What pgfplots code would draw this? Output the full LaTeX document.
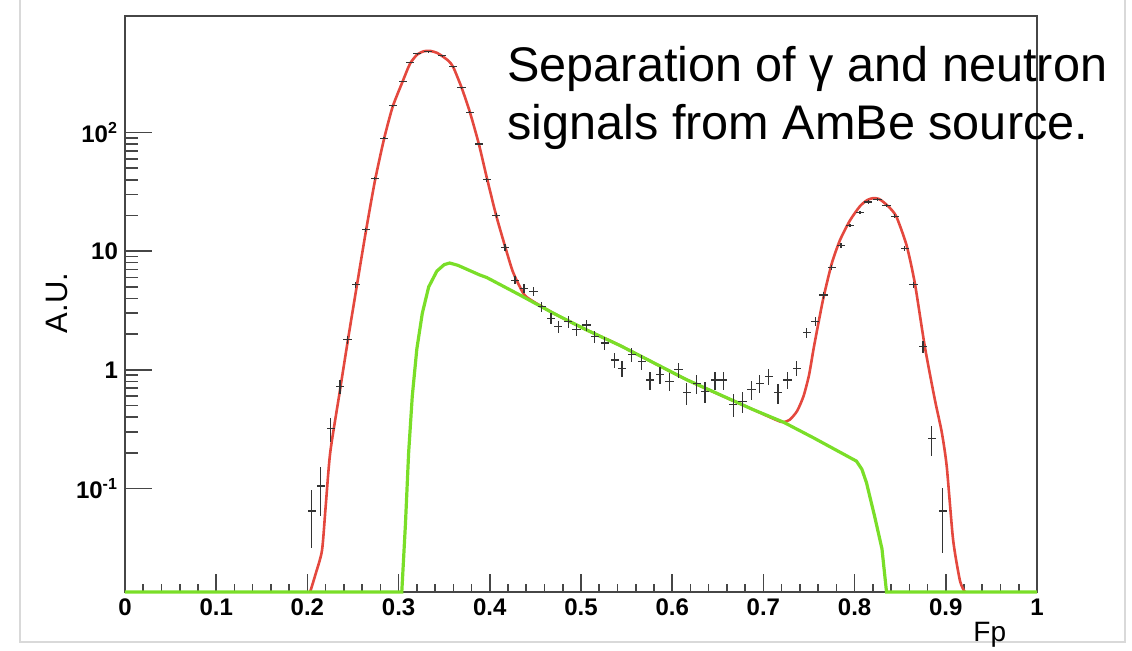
\documentclass[border=0pt]{standalone}
\usepackage{pgfplots}
\pgfplotsset{compat=1.18}
\usepackage{fontspec}
\setmainfont{Liberation Sans}
\definecolor{fitred}{RGB}{228,72,62}
\definecolor{bggreen}{RGB}{122,222,40}
\definecolor{axgray}{RGB}{70,70,70}
\begin{document}
\begin{tikzpicture}
\useasboundingbox (0,0) rectangle (566pt,325pt);
\draw[black!15, line width=0.6pt] (10pt,325pt) -- (10pt,4pt) -- (562.5pt,4pt) -- (562.5pt,325pt);
% main axis: data, x ticks
\begin{axis}[
  at={(62.5pt,29pt)}, anchor=south west, scale only axis,
  width=456pt, height=288pt,
  xmin=0, xmax=1, ymode=log, ymin=0.0134, ymax=960,
  xtick={0,0.1,0.2,0.3,0.4,0.5,0.6,0.7,0.8,0.9,1},
  xticklabels={0,0.1,0.2,0.3,0.4,0.5,0.6,0.7,0.8,0.9,1},
  minor x tick num=4,
  ytick=\empty, yminorticks=false,
  xtick pos=bottom,
  major tick length=9pt, minor tick length=4pt,
  axis line style={draw=axgray, line width=1pt},
  tick style={axgray, line width=0.8pt},
  xticklabel style={font=\bfseries\fontsize{12}{14}\selectfont},
  clip=false,
]
\addplot[fitred, line width=1.3pt, smooth, tension=0.4] coordinates {
(0.203,0.0134) (0.209,0.019) (0.216,0.03) (0.220,0.07) (0.225,0.2)
(0.235,0.62) (0.245,1.9) (0.254,5.0) (0.264,14.5) (0.274,39)
(0.284,88) (0.2935,165) (0.3045,270) (0.3125,380) (0.3205,455)
(0.328,485) (0.335,487) (0.342,470) (0.348,440) (0.355,400)
(0.360,355) (0.369,240) (0.378,150) (0.388,80) (0.3966,42)
(0.407,20) (0.4167,11) (0.425,6.8) (0.433,5.0) (0.4404,4.1)
(0.4697,3.0) (0.506,2.17) (0.543,1.6) (0.616,0.824) (0.689,0.461)
(0.715,0.375) (0.722,0.362) (0.729,0.38) (0.737,0.45) (0.744,0.6)
(0.750,0.9) (0.755,1.5) (0.760,2.4) (0.766,4.1) (0.775,7.9)
(0.784,12.4) (0.795,18.2) (0.806,24) (0.814,27) (0.8205,28)
(0.8265,27.6) (0.8315,26) (0.839,23) (0.846,19.4) (0.857,11.2)
(0.866,5.4) (0.877,1.57) (0.888,0.56) (0.8955,0.3) (0.901,0.154)
(0.908,0.037) (0.9156,0.0166) (0.921,0.0134)
};
\addplot[bggreen, line width=1.6pt] coordinates {
(0,0.0134) (0.3035,0.0134) (0.3075,0.05) (0.311,0.2) (0.315,0.6)
(0.320,1.5) (0.326,3.0) (0.333,5.0) (0.342,6.8) (0.350,7.7)
(0.356,7.95) (0.365,7.6) (0.389,6.3) (0.3966,6.0) (0.433,4.27)
(0.4697,3.0) (0.506,2.17) (0.543,1.6) (0.616,0.824) (0.689,0.461)
(0.722,0.362) (0.755,0.267) (0.802,0.17) (0.808,0.145) (0.813,0.112)
(0.822,0.058) (0.830,0.031) (0.835,0.0134) (1,0.0134)
};
\addplot[draw=none, mark=none,
  error bars/.cd, x dir=both, x explicit, y dir=both, y explicit,
  error mark=none, error bar style={draw=black!80, solid, line width=0.6pt}]
  table[x=x, y=y, x error=ex, y error=ey] {
x y ex ey
0.2047 0.0645 0.0045 0.033
0.2146 0.105 0.0045 0.046
0.2255 0.32 0.0045 0.076
0.2357 0.72 0.0045 0.1
0.244 1.79 0.0045 0.15
0.253 5.2 0.0045 0.3
0.264 15.2 0.0045 0.6
0.274 40.8 0.0045 1.2
0.284 89.6 0.0045 2
0.2935 169 0.0045 3
0.3045 270 0.0045 4
0.3125 390 0.0045 5
0.3205 463 0.0045 5
0.3326 482 0.0045 5
0.348 443 0.0045 5
0.360 359 0.0045 4
0.369 238 0.0045 3.5
0.378 148 0.0045 3
0.388 80 0.0045 2
0.3966 40 0.0045 1.5
0.407 20 0.0045 1
0.4167 10.7 0.0045 0.7
0.4276 5.7 0.0045 0.45
0.4375 4.85 0.0045 0.4
0.448 4.6 0.0045 0.4
0.457 3.4 0.0045 0.35
0.467 2.72 0.0045 0.3
0.475 2.31 0.0045 0.28
0.486 2.55 0.0045 0.28
0.495 2.17 0.0045 0.25
0.506 2.39 0.0045 0.26
0.515 1.9 0.0045 0.22
0.526 1.68 0.0045 0.2
0.537 1.21 0.0045 0.17
0.545 1.03 0.0045 0.16
0.5555 1.34 0.0045 0.18
0.5665 1.17 0.0045 0.17
0.5757 0.82 0.0045 0.14
0.5866 0.91 0.0045 0.15
0.597 0.80 0.0045 0.14
0.607 1.0 0.0045 0.15
0.616 0.64 0.0045 0.13
0.627 0.77 0.0045 0.14
0.636 0.66 0.0045 0.13
0.647 0.82 0.0045 0.14
0.656 0.82 0.0045 0.14
0.667 0.51 0.0045 0.11
0.677 0.54 0.0045 0.11
0.687 0.68 0.0045 0.12
0.696 0.77 0.0045 0.13
0.706 0.88 0.0045 0.14
0.716 0.64 0.0045 0.12
0.7265 0.82 0.0045 0.13
0.7365 1.03 0.0045 0.15
0.7475 2.05 0.0045 0.2
0.757 2.55 0.0045 0.22
0.766 4.27 0.0045 0.3
0.775 7.3 0.0045 0.4
0.785 11.2 0.0045 0.5
0.795 16.5 0.0045 0.6
0.806 21.1 0.0045 0.7
0.815 26.0 0.0045 0.8
0.825 27.2 0.0045 0.8
0.835 24.4 0.0045 0.8
0.844 19.7 0.0045 0.7
0.855 10.5 0.0045 0.5
0.8645 5.2 0.0045 0.35
0.875 1.57 0.0045 0.18
0.8845 0.262 0.0045 0.075
0.8965 0.0645 0.0045 0.036
};
\end{axis}
% second axis: y ticks only
\begin{axis}[
  at={(62.5pt,29pt)}, anchor=south west, scale only axis,
  width=456pt, height=288pt,
  xmin=0, xmax=1, ymode=log, ymin=0.0134, ymax=960,
  xtick=\empty, xminorticks=false,
  ytick={0.1,1,10,100},
  yticklabels={10\textsuperscript{-1},1,10,10\textsuperscript{2}},
  ytick pos=left,
  axis line style={draw=none},
  major tick length=13.5pt, minor tick length=6.5pt,
  tick style={axgray, line width=0.8pt},
  yticklabel style={font=\bfseries\fontsize{12}{14}\selectfont},
]
\end{axis}
\node[rotate=90, font=\fontsize{15.5}{17}\selectfont] at (28.5pt,173.5pt) {A.U.};
\node[anchor=south west, inner sep=0pt, font=\fontsize{14}{16}\selectfont] at (486.5pt,1pt) {Fp};
\node[anchor=base west, inner sep=0pt, font=\fontsize{24.3}{28}\selectfont] at (253.5pt,284pt) {Separation of γ and neutron};
\node[anchor=base west, inner sep=0pt, font=\fontsize{24.3}{28}\selectfont] at (253.5pt,255pt) {signals from AmBe source.};
\end{tikzpicture}
\end{document}
